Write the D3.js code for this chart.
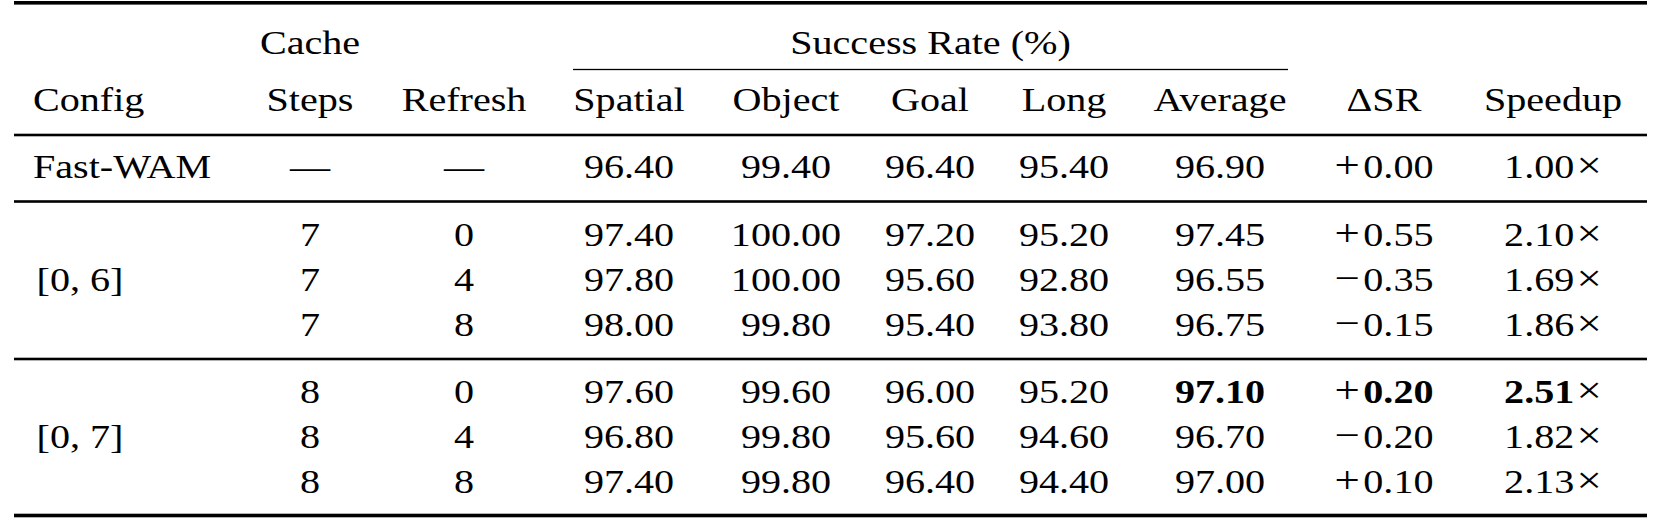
<!DOCTYPE html>
<html>
<head>
<meta charset="utf-8">
<script src="https://cdn.jsdelivr.net/npm/d3@7"></script>
<style>
  body { margin: 0; background: #fff; }
  text { font-family: "Liberation Serif", "Times New Roman", serif; fill: #000; }
</style>
</head>
<body>
<div id="chart"></div>
<script>
// table data, one entry per row
const configs = ["Fast-WAM", "[0, 6]", "[0, 7]"]
const configRow = [0, 2, 5]
const rowGroup = [0, 1, 1, 1, 2, 2, 2]
const cacheSteps = ["—", "7", "7", "7", "8", "8", "8"]
const refresh = ["—", "0", "4", "8", "0", "4", "8"]
const spatial = [96.40, 97.40, 97.80, 98.00, 97.60, 96.80, 97.40]
const object = [99.40, 100.00, 100.00, 99.80, 99.60, 99.80, 99.80]
const goal = [96.40, 97.20, 95.60, 95.40, 96.00, 95.60, 96.40]
const longHorizon = [95.40, 95.20, 92.80, 93.80, 95.20, 94.60, 94.40]
const average = [96.90, 97.45, 96.55, 96.75, 97.10, 96.70, 97.00]
const deltaSR = [0.00, 0.55, -0.35, -0.15, 0.20, -0.20, 0.10]
const speedup = [1.00, 2.10, 1.69, 1.86, 2.51, 1.82, 2.13]
const highlightRow = 4

const colKeys = ["config", "steps", "refresh", "spatial", "object", "goal", "long", "average", "dsr", "speedup"]
const headerTop = ["", "Cache", "", "", "", "", "", "", "", ""]
const headerBottom = ["Config", "Steps", "Refresh", "Spatial", "Object", "Goal", "Long", "Average", "ΔSR", "Speedup"]
const spanTitle = "Success Rate (%)"
const spanCols = ["spatial", "average"]

const width = 1662, height = 529
const fontSize = 34
const sx = 1.18 // page is stretched horizontally

const svg = d3.select("#chart").append("svg")
    .attr("width", width)
    .attr("height", height)
    .attr("viewBox", `0 0 ${width} ${height}`)

const x = d3.scaleOrdinal()
    .domain(colKeys)
    .range([33, 310, 464, 629, 786, 930, 1064, 1220, 1384, 1553])

// rows in line units, half a line extra before each group
const y = d3.scaleLinear().domain([0, 1]).range([178, 223])
const rowUnit = i => i + 0.5 * rowGroup[i]

const tableLeft = 14, tableRight = 1647

function rule(yPos, thick, x0 = tableLeft, x1 = tableRight) {
    svg.append("rect")
        .attr("x", x0).attr("y", yPos - thick / 2)
        .attr("width", x1 - x0).attr("height", thick)
        .attr("fill", "#000")
}

function cellText(g, key, yPos, segments) {
    const anchor = key == "config" ? "start" : "middle"
    const t = g.append("text")
        .attr("transform", `translate(${x(key)},${yPos}) scale(${sx},1)`)
        .attr("text-anchor", anchor)
        .style("font-size", fontSize + "px")
    segments.forEach(s => {
        const ts = t.append("tspan")
            .style("font-weight", s.bold ? "bold" : "normal")
            .text(s.text)
        if (s.dx) ts.attr("dx", s.dx)
        if (s.size) ts.style("font-size", s.size + "px")
    })
    return t
}

const plain = s => [{ text: s, bold: false }]
const fmt = v => v.toFixed(2)

// rules
rule(2.8, 3.6)
rule(y(rowUnit(0)) - 43, 2.6)
rule(y(rowUnit(1)) - 44, 2.6)
rule(y(rowUnit(4)) - 44, 2.6)
rule(y(rowUnit(6)) + 22.5, 3.6)
rule(69.5, 1.3, x(spanCols[0]) - 56, x(spanCols[1]) + 68)

// header
const headG = svg.append("g")
colKeys.forEach((k, i) => {
    if (headerTop[i]) cellText(headG, k, 54, plain(headerTop[i]))
    cellText(headG, k, 111, plain(headerBottom[i]))
})
headG.append("text")
    .attr("transform", `translate(${(x(spanCols[0]) - 56 + x(spanCols[1]) + 68) / 2},54) scale(${sx},1)`)
    .attr("text-anchor", "middle")
    .style("font-size", fontSize + "px")
    .text(spanTitle)

// body
const bodyG = svg.append("g")
configs.forEach((c, i) => {
    cellText(bodyG, "config", y(rowUnit(configRow[i])), plain(c))
        .attr("dx", i == 0 ? 0 : 3)
})

const rows = d3.range(spatial.length)
rows.forEach(i => {
    const yy = y(rowUnit(i))
    const hl = i == highlightRow
    cellText(bodyG, "steps", yy, plain(cacheSteps[i]))
    cellText(bodyG, "refresh", yy, plain(refresh[i]))
    cellText(bodyG, "spatial", yy, plain(fmt(spatial[i])))
    cellText(bodyG, "object", yy, plain(fmt(object[i])))
    cellText(bodyG, "goal", yy, plain(fmt(goal[i])))
    cellText(bodyG, "long", yy, plain(fmt(longHorizon[i])))
    cellText(bodyG, "average", yy, [{ text: fmt(average[i]), bold: hl }])
    // math cells: wider signs like the TeX math font
    const sign = deltaSR[i] < 0 ? "−" : "+"
    cellText(bodyG, "dsr", yy, [
        { text: sign, bold: false, size: 38 },
        { text: fmt(Math.abs(deltaSR[i])), bold: hl, dx: 3 }
    ])
    cellText(bodyG, "speedup", yy, [
        { text: fmt(speedup[i]), bold: hl },
        { text: "×", bold: false, size: 38, dx: 2 }
    ])
})
</script>
</body>
</html>
